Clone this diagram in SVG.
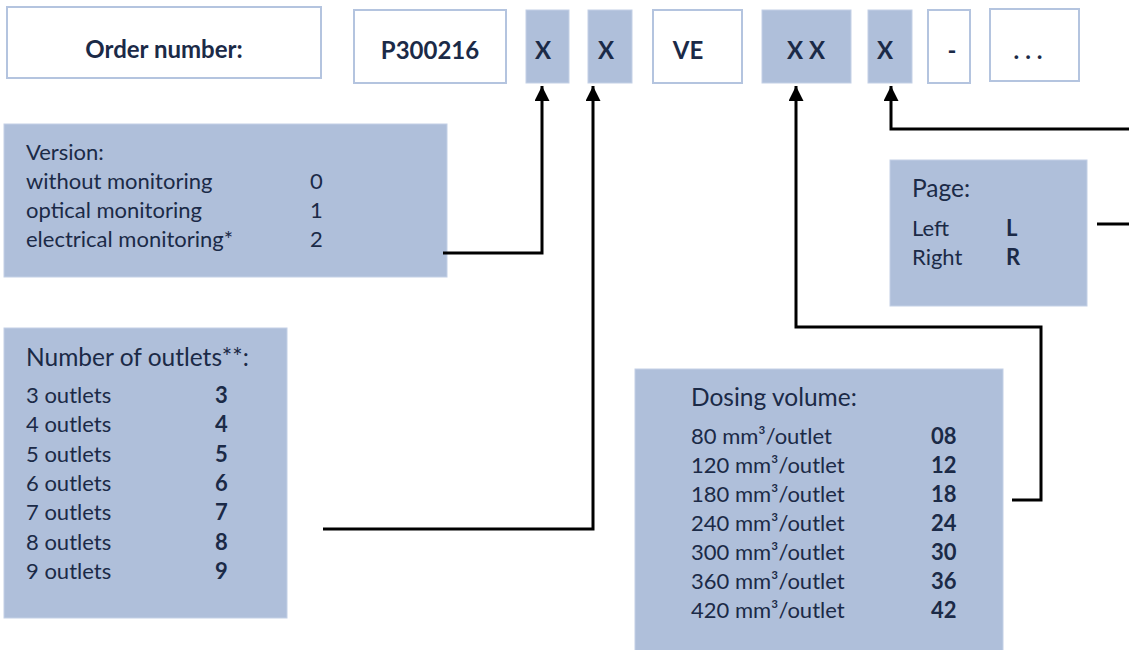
<svg xmlns="http://www.w3.org/2000/svg" width="1129" height="650" viewBox="0 0 1129 650">
<defs>
<style>
.wb{fill:#ffffff;stroke:#b4c4df;stroke-width:2}
.bb{fill:#afbfda;stroke:#c3d0e6;stroke-width:1}
text{font-family:Lato,"Open Sans","Liberation Sans",sans-serif;fill:#1b2a47}
.hd{font-size:24px;font-weight:bold;text-anchor:middle}
.it{font-size:22px}
.h2{font-size:24.5px}
.b{font-weight:bold}
.cn{fill:none;stroke:#000;stroke-width:3}
</style>
<marker id="ah" viewBox="0 0 10 10" refX="10" refY="5" markerWidth="5" markerHeight="5" orient="auto" markerUnits="strokeWidth">
<path d="M0,0 L10,5 L0,10 Z" fill="#000"/>
</marker>
</defs>
<rect width="1129" height="650" fill="#ffffff"/>
<g id="order-label"><rect class="wb" x="7" y="7" width="314" height="71"/><text class="hd" x="164" y="58">Order number:</text></g>
<g id="code-p"><rect class="wb" x="354" y="10" width="152" height="73"/><text class="hd" x="430" y="59">P300216</text></g>
<g id="code-x1"><rect class="bb" x="526" y="10" width="43" height="73"/><text class="hd" x="543" y="59">X</text></g>
<g id="code-x2"><rect class="bb" x="588" y="10" width="44" height="73"/><text class="hd" x="606" y="59">X</text></g>
<g id="code-ve"><rect class="wb" x="653" y="10" width="89" height="73"/><text class="hd" x="688" y="59">VE</text></g>
<g id="code-xx"><rect class="bb" x="762" y="10" width="89" height="73"/><text class="hd" x="806" y="59">X X</text></g>
<g id="code-x3"><rect class="bb" x="868" y="10" width="44" height="73"/><text class="hd" x="885" y="59">X</text></g>
<g id="code-dash"><rect class="wb" x="928" y="10" width="42" height="73"/><text class="hd" x="952" y="59">-</text></g>
<g id="code-dots"><rect class="wb" x="990" y="9" width="89" height="72"/><text class="hd" x="1028" y="59">. . .</text></g>

<g id="version"><rect class="bb" x="4" y="124" width="443" height="153"/>
<text class="it" x="26" y="160">Version:</text>
<text class="it" x="26" y="189">without monitoring</text><text class="it" x="310" y="189">0</text>
<text class="it" x="26" y="218">optical monitoring</text><text class="it" x="310" y="218">1</text>
<text class="it" x="26" y="247">electrical monitoring*</text><text class="it" x="310" y="247">2</text>
</g>

<g id="outlets"><rect class="bb" x="4" y="328" width="283" height="290"/>
<text class="h2" x="26" y="366">Number of outlets**:</text>
<text class="it" x="26" y="403">3 outlets</text><text class="it b" x="215" y="403">3</text>
<text class="it" x="26" y="432">4 outlets</text><text class="it b" x="215" y="432">4</text>
<text class="it" x="26" y="462">5 outlets</text><text class="it b" x="215" y="462">5</text>
<text class="it" x="26" y="491">6 outlets</text><text class="it b" x="215" y="491">6</text>
<text class="it" x="26" y="520">7 outlets</text><text class="it b" x="215" y="520">7</text>
<text class="it" x="26" y="550">8 outlets</text><text class="it b" x="215" y="550">8</text>
<text class="it" x="26" y="579">9 outlets</text><text class="it b" x="215" y="579">9</text>
</g>

<g id="page"><rect class="bb" x="890" y="160" width="197" height="146"/>
<text class="h2" x="912" y="197">Page:</text>
<text class="it" x="912" y="236">Left</text><text class="it b" x="1006" y="236">L</text>
<text class="it" x="912" y="265">Right</text><text class="it b" x="1006" y="265">R</text>
</g>

<g id="dosing"><rect class="bb" x="635" y="369" width="368" height="290"/>
<text class="h2" x="691" y="406">Dosing volume:</text>
<text class="it" x="691" y="444">80 mm³/outlet</text><text class="it b" x="931" y="444">08</text>
<text class="it" x="691" y="473">120 mm³/outlet</text><text class="it b" x="931" y="473">12</text>
<text class="it" x="691" y="502">180 mm³/outlet</text><text class="it b" x="931" y="502">18</text>
<text class="it" x="691" y="531">240 mm³/outlet</text><text class="it b" x="931" y="531">24</text>
<text class="it" x="691" y="560">300 mm³/outlet</text><text class="it b" x="931" y="560">30</text>
<text class="it" x="691" y="589">360 mm³/outlet</text><text class="it b" x="931" y="589">36</text>
<text class="it" x="691" y="618">420 mm³/outlet</text><text class="it b" x="931" y="618">42</text>
</g>

<g id="connectors">
<polyline class="cn" points="443,253 542,253 542,86" marker-end="url(#ah)"/>
<polyline class="cn" points="323,529 593,529 593,86" marker-end="url(#ah)"/>
<polyline class="cn" points="1012,500 1041,500 1041,327 796,327 796,86" marker-end="url(#ah)"/>
<polyline class="cn" points="1129,129 891,129 891,86" marker-end="url(#ah)"/>
<line class="cn" x1="1097" y1="224" x2="1129" y2="224"/>
</g>
</svg>
